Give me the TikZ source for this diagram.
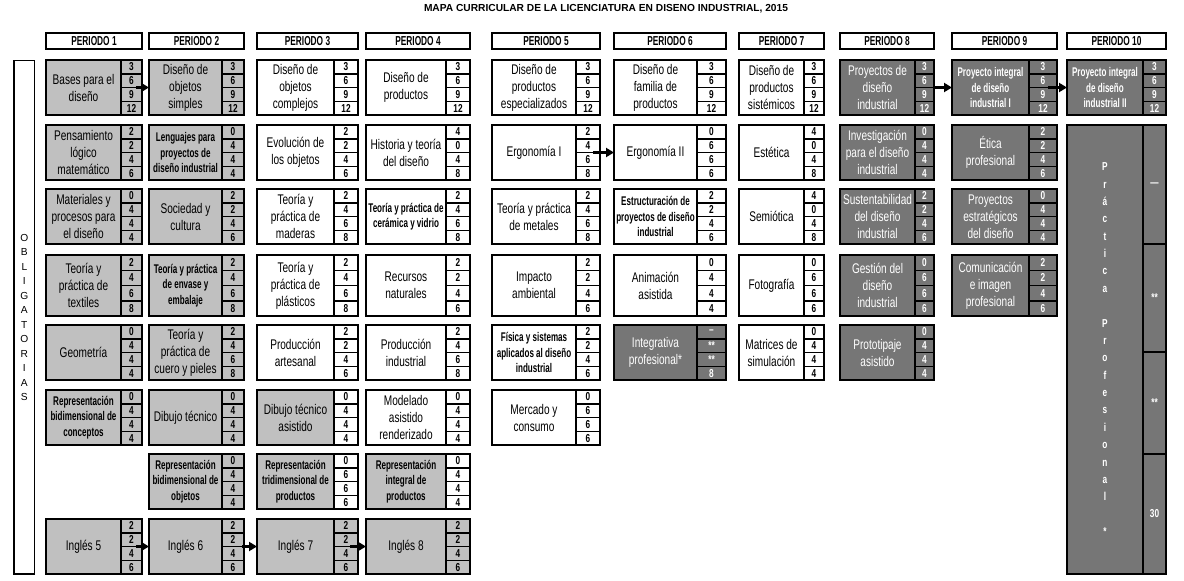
\documentclass[tikz,border=0pt]{standalone}
\usepackage{fontspec}
\setmainfont{Liberation Sans}
\newfontfamily\fA[FakeStretch=0.72]{Liberation Sans}
\newfontfamily\fB[FakeStretch=0.64]{Liberation Sans}
\usetikzlibrary{arrows.meta}
\definecolor{lgray}{RGB}{192,192,192}
\definecolor{dgray}{RGB}{118,118,118}
\makeatletter
\newcommand{\setcol}[4]{\@namedef{mcl#1}{#2}\@namedef{mcm#1}{#3}\@namedef{mcr#1}{#4}}
\newcommand{\setrow}[3]{\@namedef{mrt#1}{#2}\@namedef{mrb#1}{#3}}
\makeatother
\setcol{1}{46}{121}{142}
\setcol{2}{149}{222}{244}
\setcol{3}{257}{334}{358}
\setcol{4}{366}{446}{470}
\setcol{5}{492}{576}{600}
\setcol{6}{614}{697}{726}
\setcol{7}{739}{804}{824}
\setcol{8}{840}{915}{934}
\setcol{9}{952}{1029}{1057}
\setcol{10}{1067}{1143}{1166}
\setrow{1}{60}{115}
\setrow{2}{125}{180}
\setrow{3}{189}{244}
\setrow{4}{255}{316}
\setrow{5}{325}{380}
\setrow{6}{390}{445}
\setrow{7}{454}{509}
\setrow{8}{519}{574}
\tikzset{
  base/.style={draw=black, line width=1.5pt, inner sep=0pt, outer sep=0pt},
  numfont/.style={font=\fA\bfseries\fontsize{11.5}{12}\selectfont},
  boxg/.style={base, fill=lgray},
  cellg/.style={base, fill=lgray, numfont},
  boxgw/.style={base, fill=lgray},
  cellgw/.style={base, fill=white, numfont},
  boxw/.style={base, fill=white},
  cellw/.style={base, fill=white, numfont},
  boxd/.style={base, fill=dgray},
  celld/.style={base, fill=dgray, numfont, text=white},
  tcolg/.style={text=black},
  tcolgw/.style={text=black},
  tcolw/.style={text=black},
  tcold/.style={text=white},
  txtn/.style={align=center, inner sep=0pt, font=\fA\fontsize{14}{17}\selectfont},
  txts/.style={align=center, inner sep=0pt, font=\fB\bfseries\fontsize{12.6}{15.5}\selectfont},
  hdr/.style={base, fill=white, font=\fB\bfseries\fontsize{13}{14}\selectfont},
  arr/.style={line width=2.6pt, -{Triangle[length=8pt,width=9pt]}},
}
\newcommand{\course}[7]{%
  \edef\mXl{\csname mcl#2\endcsname}%
  \edef\mXm{\csname mcm#2\endcsname}%
  \edef\mXr{\csname mcr#2\endcsname}%
  \edef\mYt{\csname mrt#3\endcsname}%
  \edef\mYb{\csname mrb#3\endcsname}%
  \pgfmathsetmacro\mBw{\mXr-\mXl}%
  \pgfmathsetmacro\mBh{\mYb-\mYt}%
  \pgfmathsetmacro\mCw{\mXr-\mXm}%
  \pgfmathsetmacro\mCh{\mBh/4}%
  \node[box#4, minimum width=\mBw pt, minimum height=\mBh pt, anchor=north west] (#1) at (\mXl,\mYt) {};
  \foreach \v [count=\k] in {#7} {
    \node[cell#4, minimum width=\mCw pt, minimum height=\mCh pt, anchor=north west] at (\mXm, {\mYt+(\k-1)*\mCh}) {\v};
  }
  \node[txt#5, tcol#4] at ({(\mXl+\mXm)/2}, {(\mYt+\mYb)/2}) {#6};
}
\begin{document}
\begin{tikzpicture}[x=1pt, y=-1pt]
\useasboundingbox (0,0) rectangle (1184,581);
\fill[white] (0,0) rectangle (1184,581);
% title
\node[anchor=base, inner sep=0pt, font=\bfseries\fontsize{10.2}{12}\selectfont] (title) at (606,11.7) {MAPA CURRICULAR DE LA LICENCIATURA EN DISENO INDUSTRIAL, 2015};
% headers
\foreach \c in {1,...,10} {
  \pgfmathsetmacro\mHw{\csname mcr\c\endcsname-\csname mcl\c\endcsname}
  \node[hdr, minimum width=\mHw pt, minimum height=16pt, anchor=north west] (h\c) at (\csname mcl\c\endcsname,33) {PERIODO \c};
}
% obligatorias
\node[base, fill=white, minimum width=20.7pt, minimum height=513.3pt, anchor=north west] (ob) at (14,60.7) {};
\node[align=center, inner sep=0pt, font=\fontsize{10.2}{14.49}\selectfont] (obt) at (ob.center) {O\\B\\L\\I\\G\\A\\T\\O\\R\\I\\A\\S};
% periodo 1
\course{c1r1}{1}{1}{g}{n}{Bases para el\\diseño}{3,6,9,12}
\course{c1r2}{1}{2}{g}{n}{Pensamiento\\lógico\\matemático}{2,2,4,6}
\course{c1r3}{1}{3}{g}{n}{Materiales y\\procesos para\\el diseño}{0,4,4,4}
\course{c1r4}{1}{4}{g}{n}{Teoría y\\práctica de\\textiles}{2,4,6,8}
\course{c1r5}{1}{5}{g}{n}{Geometría}{0,4,4,4}
\course{c1r6}{1}{6}{g}{s}{Representación\\bidimensional de\\conceptos}{0,4,4,4}
\course{c1r8}{1}{8}{g}{n}{Inglés 5}{2,2,4,6}
% periodo 2
\course{c2r1}{2}{1}{g}{n}{Diseño de\\objetos\\simples}{3,6,9,12}
\course{c2r2}{2}{2}{g}{s}{Lenguajes para\\proyectos de\\diseño industrial}{0,4,4,4}
\course{c2r3}{2}{3}{g}{n}{Sociedad y\\cultura}{2,2,4,6}
\course{c2r4}{2}{4}{g}{s}{Teoría y práctica\\de envase y\\embalaje}{2,4,6,8}
\course{c2r5}{2}{5}{g}{n}{Teoría y\\práctica de\\cuero y pieles}{2,4,6,8}
\course{c2r6}{2}{6}{g}{n}{Dibujo técnico}{0,4,4,4}
\course{c2r7}{2}{7}{g}{s}{Representación\\bidimensional de\\objetos}{0,4,4,4}
\course{c2r8}{2}{8}{g}{n}{Inglés 6}{2,2,4,6}
% periodo 3
\course{c3r1}{3}{1}{w}{n}{Diseño de\\objetos\\complejos}{3,6,9,12}
\course{c3r2}{3}{2}{w}{n}{Evolución de\\los objetos}{2,2,4,6}
\course{c3r3}{3}{3}{w}{n}{Teoría y\\práctica de\\maderas}{2,4,6,8}
\course{c3r4}{3}{4}{w}{n}{Teoría y\\práctica de\\plásticos}{2,4,6,8}
\course{c3r5}{3}{5}{w}{n}{Producción\\artesanal}{2,2,4,6}
\course{c3r6}{3}{6}{gw}{n}{Dibujo técnico\\asistido}{0,4,4,4}
\course{c3r7}{3}{7}{gw}{s}{Representación\\tridimensional de\\productos}{0,6,6,6}
\course{c3r8}{3}{8}{g}{n}{Inglés 7}{2,2,4,6}
% periodo 4
\course{c4r1}{4}{1}{w}{n}{Diseño de\\productos}{3,6,9,12}
\course{c4r2}{4}{2}{w}{n}{Historia y teoría\\del diseño}{4,0,4,8}
\course{c4r3}{4}{3}{w}{s}{Teoría y práctica de\\cerámica y vidrio}{2,4,6,8}
\course{c4r4}{4}{4}{w}{n}{Recursos\\naturales}{2,2,4,6}
\course{c4r5}{4}{5}{w}{n}{Producción\\industrial}{2,4,6,8}
\course{c4r6}{4}{6}{w}{n}{Modelado\\asistido\\renderizado}{0,4,4,4}
\course{c4r7}{4}{7}{gw}{s}{Representación\\integral de\\productos}{0,4,4,4}
\course{c4r8}{4}{8}{g}{n}{Inglés 8}{2,2,4,6}
% periodo 5
\course{c5r1}{5}{1}{w}{n}{Diseño de\\productos\\especializados}{3,6,9,12}
\course{c5r2}{5}{2}{w}{n}{Ergonomía I}{2,4,6,8}
\course{c5r3}{5}{3}{w}{n}{Teoría y práctica\\de metales}{2,4,6,8}
\course{c5r4}{5}{4}{w}{n}{Impacto\\ambiental}{2,2,4,6}
\course{c5r5}{5}{5}{w}{s}{Física y sistemas\\aplicados al diseño\\industrial}{2,2,4,6}
\course{c5r6}{5}{6}{w}{n}{Mercado y\\consumo}{0,6,6,6}
% periodo 6
\course{c6r1}{6}{1}{w}{n}{Diseño de\\familia de\\productos}{3,6,9,12}
\course{c6r2}{6}{2}{w}{n}{Ergonomía II}{0,6,6,6}
\course{c6r3}{6}{3}{w}{s}{Estructuración de\\proyectos de diseño\\industrial}{2,2,4,6}
\course{c6r4}{6}{4}{w}{n}{Animación\\asistida}{0,4,4,4}
\course{c6r5}{6}{5}{d}{n}{Integrativa\\profesional*}{–,**,**,8}
% periodo 7
\course{c7r1}{7}{1}{w}{n}{Diseño de\\productos\\sistémicos}{3,6,9,12}
\course{c7r2}{7}{2}{w}{n}{Estética}{4,0,4,8}
\course{c7r3}{7}{3}{w}{n}{Semiótica}{4,0,4,8}
\course{c7r4}{7}{4}{w}{n}{Fotografía}{0,6,6,6}
\course{c7r5}{7}{5}{w}{n}{Matrices de\\simulación}{0,4,4,4}
% periodo 8
\course{c8r1}{8}{1}{d}{n}{Proyectos de\\diseño\\industrial}{3,6,9,12}
\course{c8r2}{8}{2}{d}{n}{Investigación\\para el diseño\\industrial}{0,4,4,4}
\course{c8r3}{8}{3}{d}{n}{Sustentabilidad\\del diseño\\industrial}{2,2,4,6}
\course{c8r4}{8}{4}{d}{n}{Gestión del\\diseño\\industrial}{0,6,6,6}
\course{c8r5}{8}{5}{d}{n}{Prototipaje\\asistido}{0,4,4,4}
% periodo 9
\course{c9r1}{9}{1}{d}{s}{Proyecto integral\\de diseño\\industrial I}{3,6,9,12}
\course{c9r2}{9}{2}{d}{n}{Ética\\profesional}{2,2,4,6}
\course{c9r3}{9}{3}{d}{n}{Proyectos\\estratégicos\\del diseño}{0,4,4,4}
\course{c9r4}{9}{4}{d}{n}{Comunicación\\e imagen\\profesional}{2,2,4,6}
% periodo 10
\course{c10r1}{10}{1}{d}{s}{Proyecto integral\\de diseño\\industrial II}{3,6,9,12}
\node[boxd, minimum width=99pt, minimum height=449pt, anchor=north west] (pp) at (1067,125) {};
\node[celld, minimum width=23pt, minimum height=119pt, anchor=north west] (pp1) at (1143,125) {—};
\node[celld, minimum width=23pt, minimum height=108pt, anchor=north west] (pp2) at (1143,244) {**};
\node[celld, minimum width=23pt, minimum height=102pt, anchor=north west] (pp3) at (1143,352) {**};
\node[celld, minimum width=23pt, minimum height=120pt, anchor=north west] (pp4) at (1143,454) {30};
\node[anchor=north, align=center, inner sep=0pt, text=white, font=\fA\bfseries\fontsize{11.5}{17.37}\selectfont] (ppt) at (1105,162.6) {P\\r\\á\\c\\t\\i\\c\\a\\[17.37pt]P\\r\\o\\f\\e\\s\\i\\o\\n\\a\\l\\[17.37pt]*};
% arrows
\draw[arr] ([xshift=-6pt]c1r1.east) -- (c2r1.west);
\draw[arr] ([xshift=-7pt]c5r2.east) -- (c6r2.west);
\draw[arr] ([xshift=-1pt]c8r1.east) -- (c9r1.west);
\draw[arr] ([xshift=-9pt]c9r1.east) -- (c10r1.west);
\draw[arr] ([xshift=-6pt]c1r8.east) -- (c2r8.west);
\draw[arr] ([xshift=-2pt]c2r8.east) -- (c3r8.west);
\draw[arr] ([xshift=-8pt]c3r8.east) -- (c4r8.west);
\end{tikzpicture}
\end{document}
